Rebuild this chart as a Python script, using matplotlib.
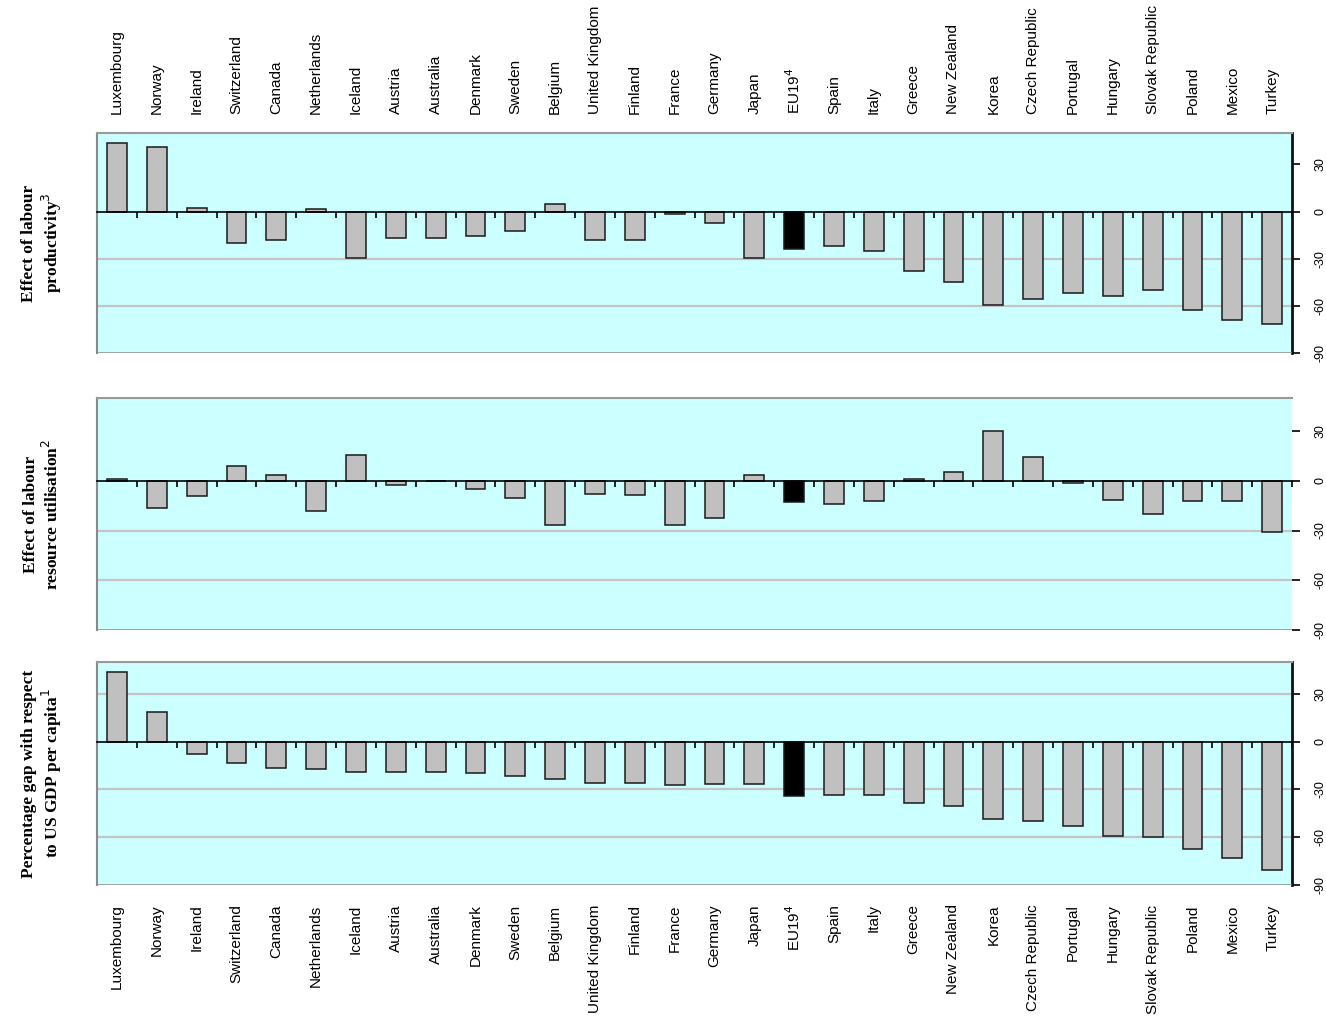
import numpy as np
from matplotlib import pyplot as plt

plt.rcParams['axes.unicode_minus'] = False
plt.rcParams['font.family'] = ['Liberation Sans', 'DejaVu Sans']

# Countries, ordered as in the chart
countries = ['Luxembourg', 'Norway', 'Ireland', 'Switzerland', 'Canada', 'Netherlands',
             'Iceland', 'Austria', 'Australia', 'Denmark', 'Sweden', 'Belgium',
             'United Kingdom', 'Finland', 'France', 'Germany', 'Japan', 'EU19',
             'Spain', 'Italy', 'Greece', 'New Zealand', 'Korea', 'Czech Republic',
             'Portugal', 'Hungary', 'Slovak Republic', 'Poland', 'Mexico', 'Turkey']

# Effect of labour productivity (top panel)
productivity = [43.8, 41.0, 2.3, -20.0, -17.9, 1.5, -29.8, -16.6, -16.8, -15.5, -12.1, 4.9,
                -17.9, -17.9, -1.3, -7.4, -29.6, -23.8, -21.7, -24.9, -37.9, -44.7,
                -59.4, -55.5, -51.7, -54.0, -50.0, -62.3, -68.7, -71.7]

# Effect of labour resource utilisation (middle panel)
utilisation = [1.4, -16.1, -9.2, 9.0, 3.6, -18.1, 15.7, -2.6, 0.0, -5.0, -10.4, -26.9,
               -8.0, -8.8, -26.9, -22.5, 3.6, -12.7, -13.9, -12.4, 1.4, 5.6,
               30.3, 14.5, -1.4, -11.4, -20.1, -12.4, -12.4, -31.1]

# Percentage gap with respect to US GDP per capita (bottom panel)
gdp_gap = [43.5, 18.3, -7.5, -13.1, -16.7, -16.9, -19.0, -18.8, -18.8, -20.0, -21.3, -23.3,
           -25.8, -25.8, -27.1, -26.9, -26.9, -34.0, -33.5, -33.5, -38.5, -40.6,
           -48.8, -50.0, -53.1, -59.2, -60.0, -67.1, -72.9, -80.6]

titles = ['Effect of labour\nproductivity$^3$',
          'Effect of labour\nresource utilisation$^2$',
          'Percentage gap with respect\nto US GDP per capita$^1$']

yticks = [30, 0, -30, -60, -90]
labels = [c + '$^4$' if c == 'EU19' else c for c in countries]

fig = plt.figure(figsize=(13.26, 10.29), dpi=100)

# axes rectangles in figure fraction [left, bottom, width, height]
rects = [[0.0732, 0.6569, 0.9012, 0.2138],
         [0.0732, 0.3878, 0.9012, 0.2254],
         [0.0732, 0.1399, 0.9012, 0.2168]]

x = np.arange(len(countries))
colors = ['black' if c == 'EU19' else '#c0c0c0' for c in countries]
panels = [productivity, utilisation, gdp_gap]

for k in range(3):
    ax = fig.add_axes(rects[k])
    ax.set_facecolor('#ccffff')
    ax.bar(x, panels[k], width=0.5, color=colors, edgecolor='#1a1a1a', linewidth=1.1, zorder=3)
    ax.set_xlim(-0.5, len(countries) - 0.5)
    ax.set_ylim(-90, 50)

    # light gridlines
    grid = [-30, -60] if k < 2 else [30, -30, -60]
    for g in grid:
        ax.axhline(g, color='#c4c4c4', linewidth=1.6, zorder=1)

    # category axis sits on the zero line
    ax.spines['bottom'].set_position(('data', 0))
    ax.spines['bottom'].set_color('black')
    ax.spines['bottom'].set_linewidth(1.2)
    ax.spines['bottom'].set_zorder(4)
    ax.set_xticks(np.arange(-0.5, len(countries), 1))
    ax.tick_params(axis='x', direction='out', length=4, width=1.2, labelbottom=False)

    # value axis on the right
    ax.yaxis.tick_right()
    ax.set_yticks(yticks)
    ax.set_yticklabels([str(t) for t in yticks], rotation=90, va='center', fontsize=9)
    ax.tick_params(axis='y', direction='out', length=6, width=1.2, pad=10, left=False)

    ax.spines['top'].set_color('#9a9a9a')
    ax.spines['left'].set_color('#8a8a8a')
    ax.spines['top'].set_linewidth(1.5)
    ax.spines['left'].set_linewidth(1.5)
    if k == 1:
        ax.spines['right'].set_visible(False)
    else:
        ax.spines['right'].set_color('#111111')
        ax.spines['right'].set_linewidth(2.0)

    # frame line at the bottom of the panel
    ax.axhline(-90, color='#8a8a8a', linewidth=1.8, zorder=5)

    # country names above the first panel and below the last one
    if k == 0:
        sec = ax.secondary_xaxis('top')
        sec.set_xticks(x)
        sec.set_xticklabels(labels, rotation=90, fontsize=11)
        sec.tick_params(length=0, pad=14)
        sec.spines['top'].set_visible(False)
    if k == 2:
        sec = ax.secondary_xaxis(-0.0)
        sec.set_xticks(x)
        sec.set_xticklabels(labels, rotation=90, fontsize=11)
        sec.tick_params(length=0, pad=14)
        sec.spines['bottom'].set_visible(False)

    # panel title on the left
    fig.text(0.032, rects[k][1] + rects[k][3] / 2, titles[k], rotation=90,
             ha='center', va='center', multialignment='center',
             family='Liberation Serif', weight='bold', fontsize=12.5)

plt.savefig('out.png', dpi=100)
